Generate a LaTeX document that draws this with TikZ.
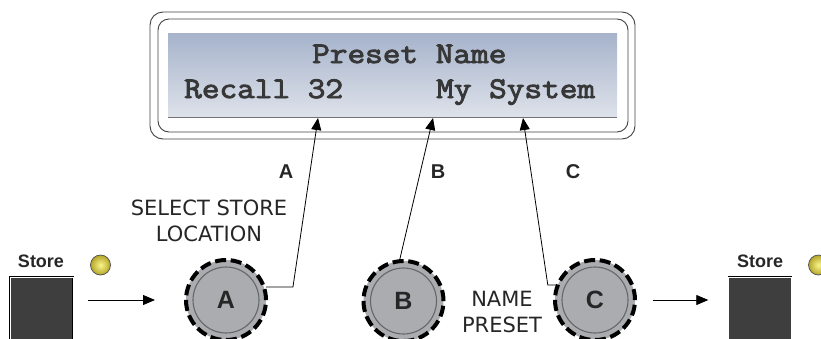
\documentclass[tikz,border=0pt]{standalone}
\usepackage{fontspec}
\setmainfont{Liberation Sans}
\newfontfamily\lcdfont[FakeStretch=1.143,FakeBold=3]{Latin Modern Mono}
\newfontfamily\lblfont{DejaVu Sans}
\usetikzlibrary{arrows.meta}
\definecolor{knobgray}{RGB}{170,172,175}
\definecolor{lcdtop}{RGB}{166,179,203}
\definecolor{lcdbot}{RGB}{222,226,234}
\definecolor{lcdtext}{RGB}{55,55,55}
\definecolor{btn}{RGB}{62,62,62}
\definecolor{ledin}{RGB}{250,245,140}
\definecolor{ledout}{RGB}{180,165,40}
\tikzset{
  frame/.style={draw=black!75, line width=0.9, rounded corners=13, inner sep=0},
  knob/.style={circle, minimum size=80, inner sep=0, fill=knobgray, draw=black, line width=4, dash pattern=on 11 off 4.7},
  knobin/.style={circle, minimum size=66, inner sep=0, draw=black!60, line width=1.1, font=\fontsize{25}{28}\selectfont\bfseries, text=black!85},
  conn/.style={draw=black, line width=0.8, -{Triangle[length=12,width=10]}},
  lcdtxt/.style={inner sep=0, anchor=base west, text=lcdtext, font=\lcdfont\fontsize{30}{34}\selectfont},
  lbl/.style={inner sep=0, align=center, font=\lblfont\fontsize{21}{26}\selectfont, text=black!85},
  letter/.style={inner sep=0, font=\fontsize{20}{22}\selectfont\bfseries, text=black!85},
  storebtn/.style={draw=black, fill=btn, minimum width=63, minimum height=80, inner sep=0, double=white, double distance=0.8},
  storelbl/.style={inner sep=0, font=\fontsize{18}{22}\selectfont\bfseries, text=black!85},
  led/.style={circle, minimum size=20, inner sep=0, draw=black!70, line width=0.7, inner color=ledin, outer color=ledout}
}
\begin{document}
\begin{tikzpicture}[x=1pt,y=1pt]
\useasboundingbox (0,0) rectangle (821,-338);
\clip (0,0) rectangle (821,-338);
% LCD frame
\node[frame, minimum width=485, minimum height=127] (fo) at (392.5,-75.5) {};
\node[frame, rounded corners=11, minimum width=470, minimum height=113] (fi) at (393,-75.5) {};
\node[inner sep=0, minimum width=449, minimum height=84, top color=lcdtop, bottom color=lcdbot] (lcd) at (392.5,-75) {};
\draw[black!55, line width=0.9] (lcd.south west) -- (lcd.south east);
\node[lcdtxt] (t1) at (312,-63) {Preset Name};
\node[lcdtxt] (t2) at (184,-98) {Recall 32};
\node[lcdtxt] (t3) at (436,-98) {My System};
\coordinate (tA) at (318,-118);
\coordinate (tB) at (433,-118);
\coordinate (tC) at (523,-118);
% knobs
\node[knob] (kA) at (226,-300) {};
\node[knobin] (kAi) at (kA) {A};
\node[knob] (kB) at (403.5,-301) {};
\node[knobin] (kBi) at (kB) {B};
\node[knob] (kC) at (595,-300) {};
\node[knobin] (kCi) at (kC) {C};
% store buttons
\node[storebtn, anchor=north] (sqL) at (41.5,-277) {};
\node[storelbl] (slL) at (41,-261) {Store};
\node[led] (ledL) at (100.5,-265) {};
\node[storebtn, anchor=north] (sqR) at (760,-277) {};
\node[storelbl] (slR) at (760,-261) {Store};
\node[led] (ledR) at (818.5,-265) {};
% labels
\node[letter] (lA) at (286,-172) {A};
\node[letter] (lB) at (438,-172) {B};
\node[letter] (lC) at (573,-172) {C};
\node[lbl] (sel) at (209,-221) {SELECT STORE\\LOCATION};
\node[lbl] (nam) at (502,-312) {NAME\\PRESET};
% connectors
\draw[conn] (kA.18) -- ++(27,0) -- (tA);
\draw[conn] (kB.95) -- (tB);
\draw[conn] (kC.159) -- ++(-8,0) -- (tC);
\draw[conn] ([xshift=15]sqL.east |- kA.center) -- ([xshift=-29]kA.west);
\draw[conn] ([xshift=16]kC.east) -- ([xshift=-20]sqR.west |- kC.center);
\end{tikzpicture}
\end{document}
